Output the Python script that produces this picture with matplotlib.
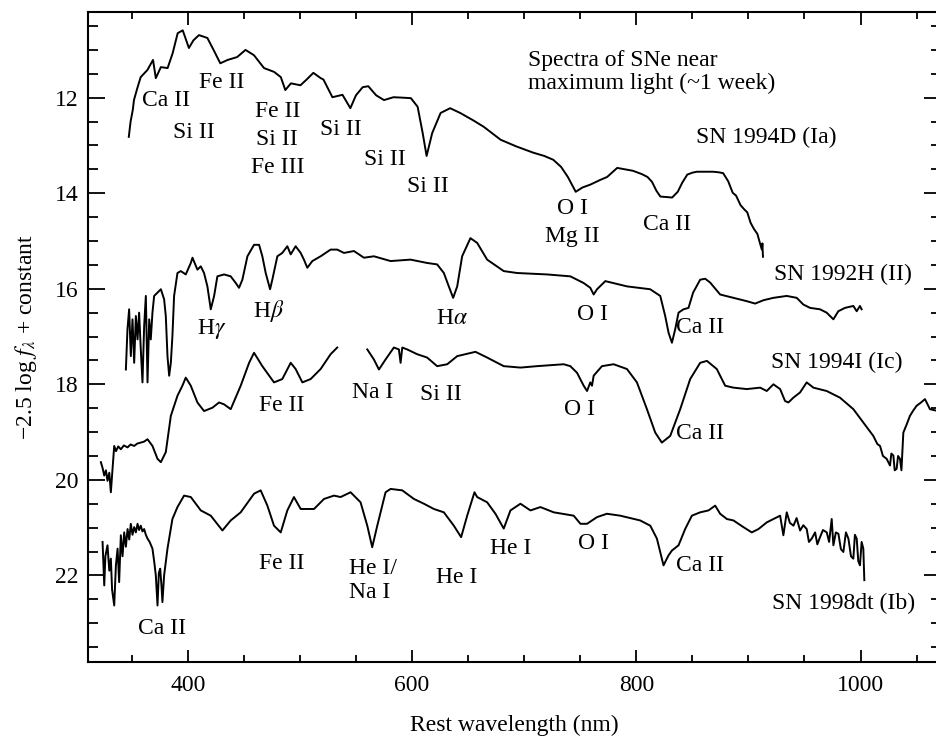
import numpy as np
import matplotlib
matplotlib.use("Agg")
import matplotlib.pyplot as plt
from matplotlib.ticker import MultipleLocator

plt.rcParams['font.family'] = ['Liberation Serif', 'DejaVu Serif']
plt.rcParams['mathtext.fontset'] = 'stix'

# spectra as (rest wavelength nm, -2.5 log f + const) pairs
sn1994d = [(347.4, 12.82), (349, 12.50), (351, 12.25), (352, 12.05), (355, 11.80), (358, 11.57),
           (364, 11.42), (369, 11.21), (371.5, 11.59), (376, 11.36), (382, 11.38), (386.5, 11.07),
           (391, 10.65), (395.5, 10.59), (401, 10.96), (405, 10.80), (410, 10.69), (417.5, 10.75),
           (423, 11.00), (429, 11.28), (435.5, 11.21), (444, 11.15), (451.5, 11.00), (459, 11.11),
           (468, 11.38), (477, 11.46), (483, 11.57), (487, 11.84), (492, 11.70), (500.5, 11.74),
           (506, 11.62), (512, 11.48), (518.5, 11.59), (521, 11.62), (529, 11.99), (538, 11.94),
           (545, 12.22), (550, 11.95), (556, 11.78), (561, 11.76), (568, 11.95), (575, 12.05),
           (583.5, 11.99), (592, 12.00), (599, 12.01), (605, 12.19), (609.5, 12.74), (613, 13.22),
           (618, 12.74), (625.5, 12.32), (634, 12.22), (643, 12.32), (655, 12.48), (664, 12.61),
           (679, 12.88), (693, 13.02), (708, 13.15), (718, 13.22), (726, 13.30), (733, 13.45),
           (739, 13.66), (746, 13.97), (752, 13.88), (759, 13.82), (768, 13.72), (774, 13.66),
           (783, 13.47), (790, 13.50), (797, 13.53), (805, 13.60), (810, 13.66), (814, 13.76),
           (818, 13.95), (821.5, 14.07), (827, 14.08), (832, 14.09), (837, 13.97), (841, 13.78),
           (845.5, 13.61), (850, 13.57), (854, 13.55), (862, 13.55), (868.5, 13.55), (873, 13.56),
           (877.5, 13.58), (882, 13.75), (886, 13.99), (889, 14.05), (893, 14.25), (896, 14.33),
           (899, 14.40), (902, 14.62), (905, 14.75), (908, 14.85), (910, 15.02), (912, 15.18),
           (912.5, 15.05), (913, 15.33)]

sn1992h = [(344.8, 17.69), (346.2, 16.85), (347.7, 16.43), (349.2, 17.41), (350.7, 16.64),
           (352.2, 17.55), (353.7, 16.57), (355.2, 17.06), (356.6, 16.50), (358.1, 17.27),
           (359.6, 17.96), (361.1, 16.78), (362.6, 16.15), (364.1, 17.96), (365.6, 16.64),
           (367.0, 17.06), (368.5, 16.50), (370.0, 16.15), (373.0, 16.08), (376.0, 16.01),
           (378.9, 16.22), (380.4, 16.57), (381.9, 17.41), (383.4, 17.82), (384.9, 17.55),
           (386.3, 16.99), (387.8, 16.15), (390.8, 15.67), (393.8, 15.63), (398.2, 15.70),
           (402.7, 15.46), (404.2, 15.35), (408.6, 15.60), (411.6, 15.53), (414.5, 15.67),
           (417.5, 15.95), (420.5, 16.43), (423.5, 16.15), (426.4, 15.74), (432.4, 15.70),
           (438.3, 15.74), (442.8, 15.88), (445.7, 15.98), (448.7, 15.81), (453.2, 15.32),
           (459.1, 15.08), (463.6, 15.08), (466.5, 15.32), (469.5, 15.67), (473.4, 16.01),
           (475.4, 15.81), (479.9, 15.32), (484.3, 15.25), (488.8, 15.11), (491.8, 15.28),
           (496.2, 15.11), (500.7, 15.25), (503.6, 15.39), (506.6, 15.56), (511.1, 15.42),
           (518.5, 15.32), (527.4, 15.18), (533.3, 15.18), (539.3, 15.25), (548.2, 15.21),
           (557.1, 15.35), (566, 15.32), (580.9, 15.42), (598.7, 15.39), (613.5, 15.46),
           (622.4, 15.49), (628.4, 15.67), (632.8, 15.95), (636.7, 16.19), (640.3, 15.95),
           (644.7, 15.32), (652.1, 14.94), (658.1, 15.04), (667, 15.39), (681.8, 15.63),
           (693.7, 15.67), (720.4, 15.70), (741.2, 15.74), (753.1, 15.88), (759, 15.98),
           (762, 16.12), (765, 16.01), (772.4, 15.84), (791.7, 15.95), (812.4, 16.01),
           (821.4, 16.15), (825.8, 16.57), (828.8, 16.92), (831.8, 17.13), (834.7, 16.85),
           (837.7, 16.50), (842.1, 16.43), (846.6, 16.40), (850.7, 16.08), (857, 15.81),
           (861.5, 15.79), (865.9, 15.87), (874.8, 16.12), (886.7, 16.19), (898.6, 16.26),
           (906, 16.31), (913.4, 16.24), (922.3, 16.19), (934.2, 16.15), (943.1, 16.19),
           (949, 16.33), (955, 16.40), (963.9, 16.43), (969.8, 16.50), (975.8, 16.64),
           (980.2, 16.47), (986.2, 16.40), (993.6, 16.36), (996.6, 16.47), (999.5, 16.36),
           (1001, 16.43)]

# SN 1994I has a gap near 540-560 nm
sn1994i_blue = [(322.5, 19.63), (324, 19.75), (325.5, 19.91), (327, 19.80), (328.4, 20.02),
                (330, 19.85), (331.4, 20.26), (332.9, 19.77), (334.4, 19.29), (336, 19.40),
                (338, 19.30), (340.3, 19.36), (343, 19.28), (346.3, 19.32), (349, 19.26),
                (352.2, 19.29), (355, 19.24), (358.1, 19.22), (361, 19.20), (364.1, 19.15),
                (368.5, 19.29), (373, 19.56), (376, 19.63), (380.4, 19.42), (384.9, 18.66),
                (390.8, 18.24), (395.2, 18.03), (398.2, 17.86), (402.7, 18.03), (408.6, 18.38),
                (414.5, 18.56), (422, 18.49), (427.9, 18.38), (432.4, 18.42), (438.3, 18.52),
                (447.2, 18.03), (454.7, 17.55), (459.1, 17.34), (466.5, 17.62), (476.9, 17.96),
                (484.3, 17.89), (491.8, 17.55), (496.2, 17.68), (502.2, 17.96), (509.6, 17.89),
                (518.5, 17.68), (527.4, 17.37), (533.3, 17.23)]
sn1994i_red = [(560.1, 17.27), (566, 17.48), (570.5, 17.69), (576.4, 17.48), (583.8, 17.23),
               (588.3, 17.27), (589.8, 17.55), (591.3, 17.23), (595.7, 17.27), (604.6, 17.37),
               (613.5, 17.44), (622.4, 17.62), (631.4, 17.58), (640.3, 17.41), (656.6, 17.32),
               (667, 17.44), (681.8, 17.62), (696.7, 17.65), (711.5, 17.62), (735.3, 17.58),
               (741.2, 17.62), (747.2, 17.76), (753.1, 18.03), (756.1, 18.14), (759, 17.96),
               (760.5, 18.03), (762, 17.82), (769.4, 17.62), (779.8, 17.58), (791.7, 17.68),
               (800.6, 17.96), (809.5, 18.52), (816.9, 19.01), (822.8, 19.22), (830.3, 19.08),
               (839.2, 18.52), (848.1, 17.89), (857, 17.55), (863, 17.51), (871.8, 17.68),
               (879.3, 18.03), (886.7, 18.07), (898.6, 18.10), (910.5, 18.07), (916.4, 18.14),
               (922.3, 18.00), (928.3, 18.10), (932.7, 18.35), (935.7, 18.38), (940.1, 18.28),
               (946.1, 18.17), (952, 17.96), (958, 18.07), (969.8, 18.14), (981.7, 18.28),
               (993.6, 18.52), (1002.5, 18.80), (1011.4, 19.08), (1015, 19.25), (1017.4, 19.29),
               (1020, 19.50), (1023.3, 19.56), (1026.3, 19.70), (1027.5, 19.45), (1029.3, 19.49),
               (1030.5, 19.80), (1032.2, 19.77), (1033.5, 19.50), (1035.2, 19.56), (1036.5, 19.80),
               (1038.2, 19.01), (1041, 18.85), (1044.1, 18.66), (1047, 18.55), (1050, 18.45),
               (1054, 18.38), (1057.5, 18.31), (1061.9, 18.52), (1067.3, 18.55), (1072, 18.55)]

sn1998dt = [(324, 21.30), (325.5, 22.21), (326.5, 21.60), (328.4, 21.37), (330, 21.90),
            (331.4, 21.65), (332.5, 22.30), (334.4, 22.63), (335.9, 21.79), (337.4, 21.44),
            (338.8, 22.14), (340.3, 21.16), (341.8, 21.60), (343.3, 21.10), (344.8, 21.40),
            (346.3, 21.03), (347.8, 21.25), (349.2, 20.92), (350.7, 21.15), (352.2, 20.99),
            (353.7, 21.10), (355.2, 20.92), (356.6, 21.05), (358.1, 20.96), (359.6, 21.08),
            (361.1, 21.03), (362.6, 21.15), (364.1, 21.23), (366, 21.30), (368.5, 21.44),
            (370, 21.70), (371.5, 22.00), (373, 22.63), (374.2, 21.95), (375.4, 21.86),
            (376.5, 22.20), (377.4, 22.56), (378.9, 22.00), (381.9, 21.44), (386.3, 20.82),
            (390.8, 20.57), (396.7, 20.33), (402.7, 20.36), (411.6, 20.64), (420.5, 20.75),
            (430.9, 21.06), (438.3, 20.85), (447.2, 20.68), (459.1, 20.29), (465, 20.22),
            (471, 20.54), (476.9, 20.96), (482.9, 21.10), (488.8, 20.64), (494.7, 20.36),
            (500.7, 20.61), (512.6, 20.61), (521.5, 20.40), (530.4, 20.33), (536.3, 20.36),
            (545.2, 20.26), (554.1, 20.47), (560.1, 20.96), (564.5, 21.41), (569, 20.96),
            (576.4, 20.26), (580.9, 20.19), (591.3, 20.22), (601.7, 20.40), (610.6, 20.50),
            (619.5, 20.61), (628.4, 20.68), (637.3, 20.96), (643.8, 21.20), (649.2, 20.75),
            (655.7, 20.26), (658.1, 20.36), (667, 20.47), (674.4, 20.71), (681.8, 21.02),
            (687.8, 20.64), (696.7, 20.50), (705.6, 20.64), (714.5, 20.57), (726.4, 20.68),
            (744.2, 20.75), (750.2, 20.92), (756.1, 20.92), (765, 20.78), (773.8, 20.71),
            (785.7, 20.75), (803.5, 20.85), (812.5, 20.96), (818.4, 21.23), (824.3, 21.79),
            (828.8, 21.58), (831.8, 21.48), (837.7, 21.37), (843.6, 21.03), (849.6, 20.75),
            (857, 20.68), (864.4, 20.64), (870.4, 20.54), (874.8, 20.71), (880.8, 20.82),
            (886.7, 20.85), (895.6, 20.99), (903, 21.10), (909, 21.03), (916.4, 20.89),
            (922.3, 20.82), (928.3, 20.75), (931.2, 21.16), (934.2, 20.68), (937, 20.90),
            (940.2, 20.96), (943, 20.80), (946.1, 21.06), (949, 20.95), (952, 21.03),
            (954, 21.30), (956.5, 21.23), (959.5, 21.10), (961.5, 21.35), (963.9, 21.20),
            (966.5, 21.05), (969.9, 21.10), (972, 21.30), (974.3, 20.82), (975.8, 21.37),
            (978, 21.10), (980.3, 21.13), (982.5, 21.45), (984.7, 21.51), (987, 21.10),
            (989.2, 21.23), (991.5, 21.60), (993.6, 21.65), (995, 21.15), (996.6, 21.23),
            (998, 21.70), (999.5, 21.79), (1001, 21.30), (1002.5, 21.44), (1003.4, 22.10)]

# line identifications: (text, wavelength, value)
line_ids = [
    ("Ca II", 380.7, 12.05), ("Si II", 405.4, 12.73), ("Fe II", 430.3, 11.69),
    ("Fe II", 480.2, 12.29), ("Si II", 479.6, 12.88), ("Fe III", 479.9, 13.47),
    ("Si II", 536.6, 12.67), ("Si II", 575.5, 13.29), ("Si II", 613.9, 13.86),
    ("O I", 743.3, 14.33), ("Mg II", 742.8, 14.90), ("Ca II", 827.9, 14.66),
    (r"H$\gamma$", 421.1, 16.85), (r"H$\beta$", 472.5, 16.47), (r"H$\alpha$", 635.8, 16.63),
    ("O I", 761.1, 16.54), ("Fe II", 483.5, 18.45), ("Na I", 565.1, 18.17),
    ("Si II", 625.7, 18.21), ("O I", 749.3, 18.52), ("Ca II", 376.9, 23.11),
    ("Fe II", 483.5, 21.76), ("He I", 640.0, 22.04), ("He I", 688.1, 21.44),
    ("O I", 762.3, 21.34),
]
left_ids = [("Ca II", 835.0, 16.82), ("Ca II", 835.0, 19.02), ("Ca II", 835.0, 21.79)]
sn_names = [("SN 1994D (Ia)", 915.8, 12.84), ("SN 1992H (II)", 984.0, 15.70),
            ("SN 1994I (Ic)", 978.8, 17.55), ("SN 1998dt (Ib)", 984.7, 22.59)]

fig = plt.figure(figsize=(9.36, 7.36), dpi=100)
ax = fig.add_axes([0.094, 0.1001, 0.9116, 0.884])

for spec in [sn1994d, sn1992h, sn1994i_blue, sn1994i_red, sn1998dt]:
    wl, mag = np.array(spec).T
    ax.plot(wl, mag, color='black', lw=1.4)

fs = 17
for txt, x, y in line_ids:
    ax.text(x, y, txt, fontsize=fs, ha='center', va='center')
for txt, x, y in left_ids:
    ax.text(x, y, txt, fontsize=fs, ha='left', va='center')
for txt, x, y in sn_names:
    ax.text(x, y, txt, fontsize=fs, ha='center', va='center')
ax.text(543.7, 22.11, "He I/\nNa I", fontsize=fs, ha='left', va='center', linespacing=1.2)
ax.text(703, 11.46, "Spectra of SNe near\nmaximum light (~1 week)", fontsize=fs,
        ha='left', va='center', linespacing=1.15)

ax.set_xlim(311, 1072)
ax.set_ylim(23.82, 10.2)
ax.xaxis.set_major_locator(MultipleLocator(200))
ax.xaxis.set_minor_locator(MultipleLocator(50))
ax.yaxis.set_major_locator(MultipleLocator(2))
ax.yaxis.set_minor_locator(MultipleLocator(0.5))
ax.tick_params(which='both', direction='in', top=True, right=True, labelsize=fs, width=1.3)
ax.tick_params(axis='x', which='major', length=9, pad=9)
ax.tick_params(axis='x', which='minor', length=5)
ax.tick_params(axis='y', which='major', length=12, pad=7)
ax.tick_params(axis='y', which='minor', length=7)
for s in ax.spines.values():
    s.set_linewidth(1.5)

ax.set_xlabel("Rest wavelength (nm)", fontsize=fs, labelpad=14)
ax.set_ylabel("\u22122.5 log $f_\\lambda$ + constant", fontsize=fs, labelpad=11)

fig.savefig("out.png", dpi=100)
